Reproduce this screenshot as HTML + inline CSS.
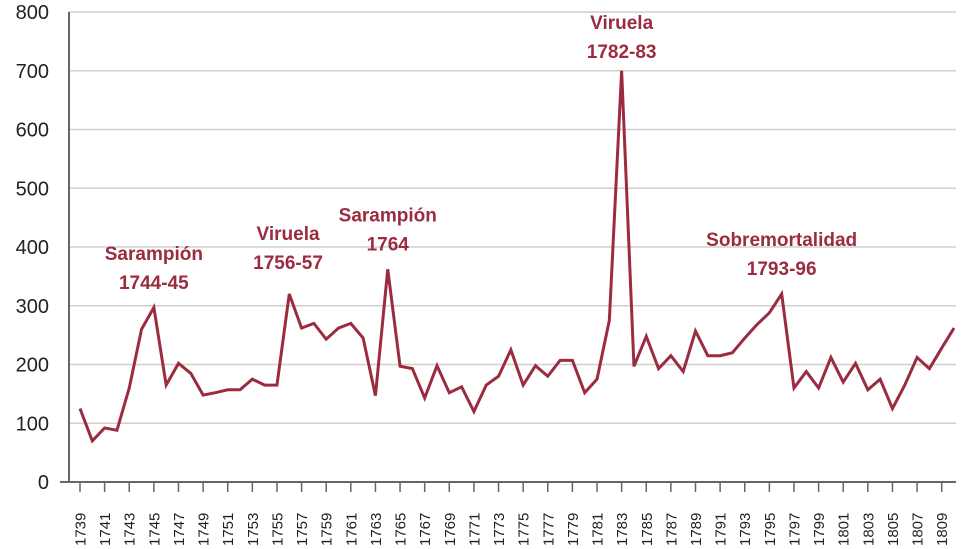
<!DOCTYPE html>
<html><head><meta charset="utf-8"><style>
body{margin:0;background:#fff;}
svg{display:block;font-family:"Liberation Sans",sans-serif;}
</style></head><body>
<svg id="chart" width="963" height="549"></svg>
<script>
const years=[];for(let y=1739;y<=1810;y++)years.push(y);
const deaths=[125,70,92,88,160,260,297,165,202,185,148,152,157,157,175,165,165,320,262,270,243,262,270,245,147,362,197,193,143,198,152,162,120,165,180,225,165,198,180,207,207,152,175,275,700,197,248,193,215,188,257,215,215,220,245,268,288,320,160,188,160,212,170,202,157,175,125,165,212,193,228,262];
const yTicks=[0,100,200,300,400,500,600,700,800];
const annotations=[
 {lines:["Sarampión","1744-45"],year:1745,val:378},
 {lines:["Viruela","1756-57"],year:1755.9,val:412},
 {lines:["Sarampión","1764"],year:1764,val:443},
 {lines:["Viruela","1782-83"],year:1783,val:771},
 {lines:["Sobremortalidad","1793-96"],year:1796,val:402}];
const NS="http://www.w3.org/2000/svg";
const svg=document.getElementById('chart');
const X=y=>80+(y-1739)*12.31;
const Y=v=>482-v*0.5875;
function el(t,a,p){const e=document.createElementNS(NS,t);for(const k in a)e.setAttribute(k,a[k]);(p||svg).appendChild(e);return e;}
const grid=el('g',{});


yTicks.forEach(v=>{
 if(v>0){const l=el('line',{x1:69,x2:956,y1:Y(v),y2:Y(v),stroke:'#cfcfcf','stroke-width':1.5},grid);
 
 }
 const t=el('text',{x:49,y:Y(v)+7,'text-anchor':'end','font-size':20,fill:'#222'});
 
 
 t.textContent=v;
});
const ax=el('path',{d:`M69 ${Y(800)} V482 M60 482 H956`,stroke:'#666','stroke-width':2,fill:'none'});


years.forEach(y=>{
 if(y%2===1){
  el('line',{x1:X(y),x2:X(y),y1:482,y2:492,stroke:'#666','stroke-width':1.5});
  const t=el('text',{transform:`translate(${X(y)+5.5},546) rotate(-90)`,'font-size':15,fill:'#222'});
  
  
  t.textContent=y;
 }
});
const line=el('polyline',{points:years.map((y,i)=>X(y)+','+Y(deaths[i])).join(' '),fill:'none',stroke:'#9b2c3f','stroke-width':3,'stroke-linejoin':'miter'});


annotations.forEach(a=>{
 const t=el('text',{x:X(a.year),y:Y(a.val),'text-anchor':'middle','font-size':19,'font-weight':'bold',fill:'#9b2c3f'});
 
 
 a.lines.forEach((s,i)=>{const ts=el('tspan',{x:X(a.year),dy:i?29:0},t);ts.textContent=s;});
});
</script>
</body></html>
